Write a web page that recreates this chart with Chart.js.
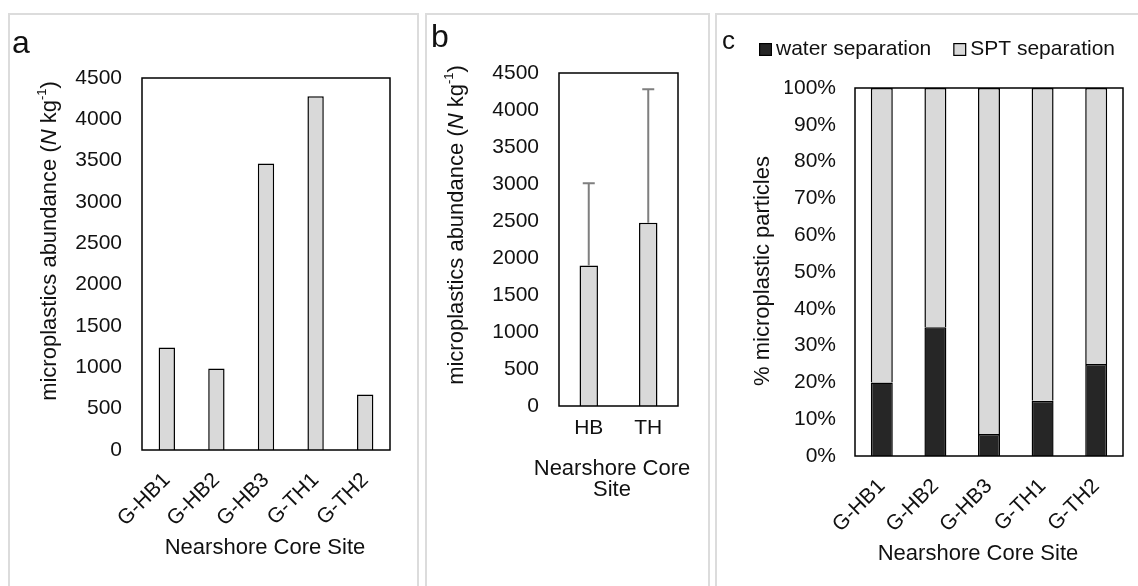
<!DOCTYPE html>
<html>
<head>
<meta charset="utf-8">
<script src="https://cdn.jsdelivr.net/npm/chart.js@4.4.1/dist/chart.umd.min.js"></script>
<style>
  html, body { margin: 0; padding: 0; background: #fff; }
  #page { position: relative; width: 1138px; height: 586px; overflow: hidden; }
  .panel { position: absolute; top: 13px; height: 620px; border: 2px solid #dcdcdc; box-sizing: border-box; }
  canvas { position: absolute; left: 0; top: 0; }
</style>
</head>
<body>
<div id="page">
  <div class="panel" style="left:8px;width:411px"></div>
  <div class="panel" style="left:425px;width:285px"></div>
  <div class="panel" style="left:715px;width:450px"></div>
  <canvas id="chartA" width="1138" height="586"></canvas>
  <canvas id="chartB" width="1138" height="586"></canvas>
  <canvas id="chartC" width="1138" height="586"></canvas>
</div>
<script>
// core sites and abundance (N per kg)
const sites = ['G-HB1', 'G-HB2', 'G-HB3', 'G-TH1', 'G-TH2'];
const abundance = [1240, 985, 3465, 4280, 670];

// grouped by region: mean and spread
const regions = ['HB', 'TH'];
const regionMean = [1897, 2475];
const regionSd = [1114, 1805];

// share of particles by extraction method (%)
const waterPct = [20, 35, 6, 15, 25];
const sptPct = [80, 65, 94, 85, 75];

const abundanceTicks = [0, 500, 1000, 1500, 2000, 2500, 3000, 3500, 4000, 4500];
const percentTicks = [0, 10, 20, 30, 40, 50, 60, 70, 80, 90, 100];

const W = 1138, H = 586;
const ink = '#111111';
const lightFill = '#d9d9d9';
const darkFill = '#262626';
const FONT = '"Liberation Sans", Arial, sans-serif';

Chart.defaults.font.family = FONT;
Chart.defaults.color = ink;

const abundanceTitle = [
  { text: 'microplastics abundance (' },
  { text: 'N', italic: true },
  { text: ' kg' },
  { text: '-1', sup: true },
  { text: ')' }
];

function drawRich(ctx, pieces, x, y, size, rotate) {
  const fontOf = p => `${p.italic ? 'italic ' : ''}${p.sup ? Math.round(size * 0.6) : size}px ${FONT}`;
  ctx.save();
  ctx.translate(x, y);
  if (rotate) ctx.rotate(-Math.PI / 2);
  let total = 0;
  pieces.forEach(p => { ctx.font = fontOf(p); total += ctx.measureText(p.text).width; });
  let cx = -total / 2;
  ctx.textAlign = 'left';
  ctx.textBaseline = 'middle';
  ctx.fillStyle = ink;
  pieces.forEach(p => {
    ctx.font = fontOf(p);
    ctx.fillText(p.text, cx, p.sup ? -size * 0.33 : 0);
    cx += ctx.measureText(p.text).width;
  });
  ctx.restore();
}

// black frame round the plot area, panel letter and axis titles
const framePlugin = {
  id: 'frame',
  afterDatasetsDraw(chart, args, opts) {
    const { ctx, chartArea: a } = chart;
    ctx.save();
    ctx.strokeStyle = '#000';
    ctx.lineWidth = 1.5;
    ctx.strokeRect(a.left, a.top, a.right - a.left, a.bottom - a.top);
    ctx.restore();
  },
  afterDraw(chart, args, opts) {
    const ctx = chart.ctx;
    if (opts.letter) {
      ctx.save();
      ctx.font = `${opts.letter.size}px ${FONT}`;
      ctx.fillStyle = ink;
      ctx.textBaseline = 'alphabetic';
      ctx.fillText(opts.letter.text, opts.letter.x, opts.letter.y);
      ctx.restore();
    }
    (opts.titles || []).forEach(t => drawRich(ctx, t.pieces, t.x, t.y, 22, t.rotate));
  }
};

// upward error whiskers for the regional means
const errorPlugin = {
  id: 'errorBars',
  afterDatasetsDraw(chart, args, opts) {
    if (!opts.errors) return;
    const { ctx } = chart;
    const yScale = chart.scales.y;
    const meta = chart.getDatasetMeta(0);
    const values = chart.data.datasets[0].data;
    ctx.save();
    ctx.strokeStyle = '#7f7f7f';
    ctx.lineWidth = 2;
    meta.data.forEach((bar, i) => {
      const yTop = yScale.getPixelForValue(values[i] + opts.errors[i]);
      ctx.beginPath();
      ctx.moveTo(bar.x, bar.y);
      ctx.lineTo(bar.x, yTop);
      ctx.moveTo(bar.x - 6, yTop);
      ctx.lineTo(bar.x + 6, yTop);
      ctx.stroke();
    });
    ctx.restore();
  }
};

// compact legend with small square swatches
const legendPlugin = {
  id: 'swatchLegend',
  afterDraw(chart, args, opts) {
    if (!opts.x) return;
    const { ctx } = chart;
    let x = opts.x;
    ctx.save();
    ctx.font = `21px ${FONT}`;
    ctx.textBaseline = 'middle';
    chart.data.datasets.forEach(ds => {
      ctx.fillStyle = ds.backgroundColor;
      ctx.fillRect(x, opts.y - 6.5, 13, 13);
      ctx.strokeStyle = '#000';
      ctx.lineWidth = 1.2;
      ctx.strokeRect(x + 0.6, opts.y - 5.9, 11.8, 11.8);
      ctx.fillStyle = ink;
      ctx.fillText(ds.label, x + 17, opts.y);
      x += 17 + ctx.measureText(ds.label).width + 22;
    });
    ctx.restore();
  }
};

Chart.register(framePlugin, errorPlugin, legendPlugin);

function panelOptions(area, y, x, plugins) {
  return {
    responsive: false,
    animation: false,
    events: [],
    layout: { padding: { left: area.left - 70, top: area.top, right: W - area.right, bottom: 0 } },
    plugins: Object.assign({ legend: { display: false }, tooltip: { enabled: false } }, plugins),
    scales: {
      x: {
        stacked: !!x.stacked,
        grid: { display: false, drawTicks: false },
        border: { display: false },
        ticks: {
          font: { size: 21 },
          color: ink,
          padding: x.padding,
          minRotation: x.rotation,
          maxRotation: x.rotation,
          autoSkip: false
        },
        afterFit(s) { s.height = H - area.bottom; s.paddingLeft = 0; s.paddingRight = 0; }
      },
      y: {
        stacked: !!y.stacked,
        min: y.ticks[0],
        max: y.ticks[y.ticks.length - 1],
        grid: { display: false, drawTicks: false },
        border: { display: false },
        afterBuildTicks(s) { s.ticks = y.ticks.map(v => ({ value: v })); },
        ticks: {
          font: { size: 21 },
          color: ink,
          padding: y.padding,
          callback: y.format
        },
        afterFit(s) { s.width = 70; s.paddingTop = 0; s.paddingBottom = 0; }
      }
    }
  };
}

// panel a: abundance per core site
new Chart(document.getElementById('chartA'), {
  type: 'bar',
  data: {
    labels: sites,
    datasets: [{
      data: abundance,
      backgroundColor: lightFill,
      borderColor: '#000',
      borderWidth: 1.5,
      categoryPercentage: 1,
      barPercentage: 0.33
    }]
  },
  options: panelOptions(
    { left: 142, right: 390, top: 78, bottom: 450 },
    { ticks: abundanceTicks, padding: 20, format: v => v },
    { rotation: 45, padding: 18 },
    {
      frame: {
        letter: { text: 'a', x: 12, y: 53, size: 32 },
        titles: [
          { pieces: abundanceTitle, x: 50, y: 241, rotate: true },
          { pieces: [{ text: 'Nearshore Core Site' }], x: 265, y: 548 }
        ]
      }
    }
  )
});

// panel b: regional means with spread
new Chart(document.getElementById('chartB'), {
  type: 'bar',
  data: {
    labels: regions,
    datasets: [{
      data: regionMean,
      backgroundColor: lightFill,
      borderColor: '#000',
      borderWidth: 1.5,
      categoryPercentage: 1,
      barPercentage: 0.31
    }]
  },
  options: panelOptions(
    { left: 559, right: 678, top: 73, bottom: 406 },
    { ticks: abundanceTicks, padding: 20, format: v => v },
    { rotation: 0, padding: 10 },
    {
      errorBars: { errors: regionSd },
      frame: {
        letter: { text: 'b', x: 431, y: 47, size: 32 },
        titles: [
          { pieces: abundanceTitle, x: 457, y: 225, rotate: true },
          { pieces: [{ text: 'Nearshore Core' }], x: 612, y: 469 },
          { pieces: [{ text: 'Site' }], x: 612, y: 490 }
        ]
      }
    }
  )
});

// panel c: extraction method split per site
new Chart(document.getElementById('chartC'), {
  type: 'bar',
  data: {
    labels: sites,
    datasets: [
      {
        label: 'water separation',
        data: waterPct,
        backgroundColor: darkFill,
        borderColor: '#000',
        borderWidth: 1.5,
        categoryPercentage: 1,
        barPercentage: 0.41
      },
      {
        label: 'SPT separation',
        data: sptPct,
        backgroundColor: lightFill,
        borderColor: '#000',
        borderWidth: 1.5,
        categoryPercentage: 1,
        barPercentage: 0.41
      }
    ]
  },
  options: panelOptions(
    { left: 855, right: 1123, top: 88, bottom: 456 },
    { ticks: percentTicks, padding: 19, format: v => v + '%', stacked: true },
    { rotation: 45, padding: 18, stacked: true },
    {
      swatchLegend: { x: 759, y: 49.5 },
      frame: {
        letter: { text: 'c', x: 722, y: 49, size: 26 },
        titles: [
          { pieces: [{ text: '% microplastic particles' }], x: 763, y: 271, rotate: true },
          { pieces: [{ text: 'Nearshore Core Site' }], x: 978, y: 554 }
        ]
      }
    }
  )
});
</script>
</body>
</html>
